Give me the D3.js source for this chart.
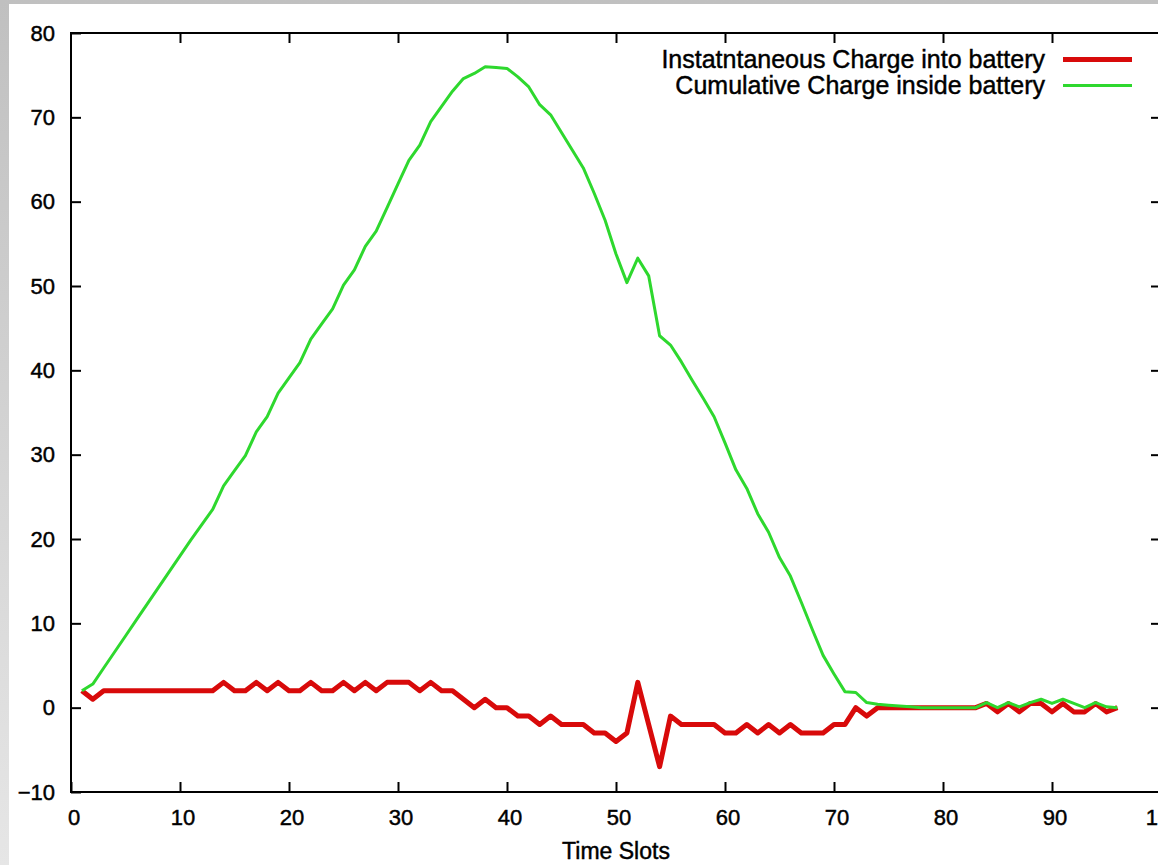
<!DOCTYPE html>
<html>
<head>
<meta charset="utf-8">
<script src="https://cdn.jsdelivr.net/npm/d3@7"></script>
<style>
  body { margin: 0; background: #fff; }
  svg { display: block; font-family: "Liberation Sans", Arial, Helvetica, sans-serif; }
  svg text { fill: #000; stroke: #000; stroke-width: 0.45px; }
  .axis text { font-size: 22px; }
  .axis line { stroke: #000; stroke-width: 2; }
  .axis path { display: none; }
</style>
</head>
<body>
<div id="plot-area"></div>
<script>
// Battery charge per time slot

const timeSlots = [1, 2, 3, 4, 5, 6, 7, 8, 9, 10, 11, 12, 13, 14, 15, 16, 17, 18, 19, 20,
  21, 22, 23, 24, 25, 26, 27, 28, 29, 30, 31, 32, 33, 34, 35, 36, 37, 38, 39, 40,
  41, 42, 43, 44, 45, 46, 47, 48, 49, 50, 51, 52, 53, 54, 55, 56, 57, 58, 59, 60,
  61, 62, 63, 64, 65, 66, 67, 68, 69, 70, 71, 72, 73, 74, 75, 76, 77, 78, 79, 80,
  81, 82, 83, 84, 85, 86, 87, 88, 89, 90, 91, 92, 93, 94, 95, 96];

const instantCharge = [2, 1, 2, 2, 2, 2, 2, 2, 2, 2, 2, 2, 2, 3, 2, 2, 3, 2, 3, 2,
  2, 3, 2, 2, 3, 2, 3, 2, 3, 3, 3, 2, 3, 2, 2, 1, 0, 1, 0, 0,
  -1, -1, -2, -1, -2, -2, -2, -3, -3, -4, -3, 3, -2, -7, -1, -2, -2, -2, -2, -3,
  -3, -2, -3, -2, -3, -2, -3, -3, -3, -2, -2, 0, -1, 0, 0, 0, 0, 0, 0, 0,
  0, 0, 0, 0.5, -0.5, 0.5, -0.5, 0.5, 0.5, -0.5, 0.5, -0.5, -0.5, 0.5, -0.5, 0];

const cumulativeCharge = [2, 2.8, 4.7, 6.6, 8.5, 10.4, 12.3, 14.2, 16.1, 18.0,
  19.9, 21.7, 23.5, 26.3, 28.1, 29.9, 32.7, 34.5, 37.3, 39.1,
  40.9, 43.7, 45.5, 47.3, 50.1, 51.9, 54.7, 56.5, 59.3, 62.1,
  64.9, 66.7, 69.5, 71.3, 73.1, 74.6, 75.2, 76.0, 75.9, 75.8,
  74.8, 73.6, 71.5, 70.3, 68.2, 66.1, 64.0, 61.0, 57.8, 53.8,
  50.4, 53.3, 51.2, 44.1, 43.0, 41.0, 38.8, 36.7, 34.5, 31.4,
  28.2, 26.0, 23.0, 20.8, 17.8, 15.6, 12.5, 9.3, 6.2, 4.0,
  1.9, 1.8, 0.6, 0.4, 0.3, 0.2, 0.1, 0, 0, 0,
  0, 0, 0, 0.6, 0, 0.6, 0.1, 0.6, 1.0, 0.5,
  1.0, 0.5, 0, 0.6, 0.1, 0];

const xTicks = [0, 10, 20, 30, 40, 50, 60, 70, 80, 90, 100];
const yTicks = [-10, 0, 10, 20, 30, 40, 50, 60, 70, 80];

const seriesNames = ["Instatntaneous Charge into battery", "Cumulative Charge inside battery"];
const seriesColors = ["#d80a0a", "#2ed82e"];
const xLabel = "Time Slots";

// Initialize plot area
const w = 1158, h = 865;
const svg = d3.select("#plot-area").
append("svg").
attr("width", w).
attr("height", h);

// Gray frame around the white page
const grad = svg.append("defs").
append("linearGradient").
attr("id", "frame").
attr("x1", 0).attr("y1", 0).attr("x2", 0).attr("y2", 1);
grad.append("stop").attr("offset", 0).attr("stop-color", "#c0c0c0");
grad.append("stop").attr("offset", 1).attr("stop-color", "#e6e6e6");

svg.append("rect").
attr("width", w).
attr("height", h).
attr("fill", "url(#frame)");

svg.append("rect").
attr("x", 9).
attr("y", 4).
attr("width", w - 9).
attr("height", h - 4).
attr("fill", "#fff");

// Scales
const xScale = d3.scaleLinear().
domain([0, 100]).
range([71, 1161]);

const yScale = d3.scaleLinear().
domain([-10, 80]).
range([792, 33]);

// Axes, ticks pointing inward on all four sides
svg.append("g").
attr("class", "axis").
attr("transform", `translate(0 ${yScale(-10)})`).
call(d3.axisBottom(xScale).
tickValues(xTicks).
tickSize(-10).
tickSizeOuter(0).
tickPadding(17)).
selectAll("text").
attr("dx", 2.5);

svg.append("g").
attr("class", "axis").
attr("transform", `translate(0 ${yScale(80)})`).
call(d3.axisTop(xScale).
tickValues(xTicks.slice(1, -1)).
tickSize(-10).
tickSizeOuter(0).
tickFormat(""));

svg.append("g").
attr("class", "axis").
attr("transform", `translate(${xScale(0)} 0)`).
call(d3.axisLeft(yScale).
tickValues(yTicks).
tickSize(-10).
tickSizeOuter(0).
tickPadding(16));

svg.append("g").
attr("class", "axis").
attr("transform", `translate(${xScale(100)} 0)`).
call(d3.axisRight(yScale).
tickValues(yTicks.slice(1, -1)).
tickSize(-10).
tickSizeOuter(0).
tickFormat(""));

// Border
svg.append("rect").
attr("x", xScale(0)).
attr("y", yScale(80)).
attr("width", xScale(100) - xScale(0)).
attr("height", yScale(-10) - yScale(80)).
attr("fill", "none").
attr("stroke", "#000").
attr("stroke-width", 2);

// Axis title
svg.append("text").
attr("x", (xScale(0) + xScale(100)) / 2).
attr("y", 859).
attr("text-anchor", "middle").
attr("font-size", 23).
text(xLabel);

// Lines
const line = d3.line().
x(d => xScale(d[0])).
y(d => yScale(d[1]));

const series = [
  { values: instantCharge, width: 5 },
  { values: cumulativeCharge, width: 3 }];

series.forEach((s, i) => {
  svg.append("path").
  datum(timeSlots.map((t, j) => [t, s.values[j]])).
  attr("d", line).
  attr("fill", "none").
  attr("stroke", seriesColors[i]).
  attr("stroke-width", s.width).
  attr("stroke-linejoin", "round");
});

// Legend
const legend = svg.append("g");

seriesNames.forEach((name, i) => {
  const yMid = 59.5 + i * 26;
  legend.append("text").
  attr("x", 1045).
  attr("y", yMid + 8.8).
  attr("text-anchor", "end").
  attr("font-size", 25).
  text(name);

  legend.append("line").
  attr("x1", 1063).
  attr("x2", 1132).
  attr("y1", yMid).
  attr("y2", yMid).
  attr("stroke", seriesColors[i]).
  attr("stroke-width", series[i].width);
});
</script>
</body>
</html>
